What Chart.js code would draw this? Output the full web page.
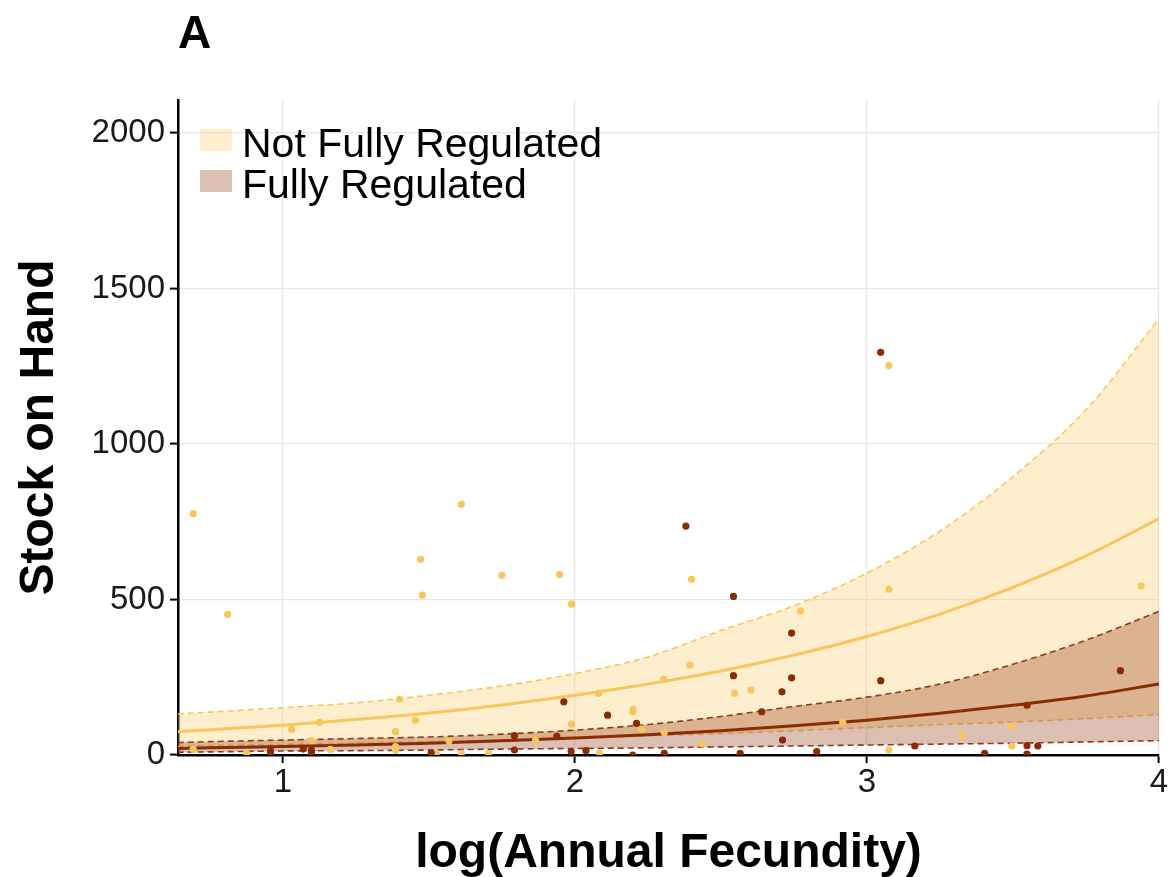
<!DOCTYPE html>
<html>
<head>
<meta charset="utf-8">
<script src="https://cdn.jsdelivr.net/npm/chart.js@4.4.1/dist/chart.umd.min.js"></script>
<style>
  html, body { margin: 0; padding: 0; background: #fff; }
</style>
</head>
<body>
<canvas id="chart" width="1176" height="877"></canvas>
<script>
// fitted curves + 95% bands
const curveX    = [0.64, 0.75, 1.0, 1.25, 1.5, 1.75, 2.0, 2.25, 2.5, 2.75, 3.0, 3.25, 3.5, 3.75, 4.0];
const notFit    = [75, 81, 96, 114, 135, 161, 192, 228, 270, 321, 381, 453, 539, 640, 760];
const notUpper  = [132, 138, 152, 168, 192, 222, 262, 315, 400, 480, 585, 720, 895, 1110, 1402];
const notLower  = [28, 30, 34, 38, 43, 48, 55, 62, 69, 78, 88, 98, 106, 117, 130];
const fullFit   = [21, 23, 27, 32, 38, 46, 55, 65, 78, 94, 112, 134, 160, 190, 228];
const fullUpper = [40, 43, 48, 53, 58, 67, 80, 98, 124, 156, 186, 228, 292, 369, 462];
const fullLower = [9, 10, 13, 14, 16, 19, 21, 23, 26, 29, 32, 35, 38, 42, 46];

// raw observations
const notPtsX = [0.693, 0.811, 1.611, 1.472, 1.478, 1.75, 1.947, 1.989, 2.40, 3.075, 3.075, 2.773, 3.939,
  0.693, 0.876, 1.03, 1.125, 1.098, 1.163, 1.40, 1.454, 1.386, 1.386, 1.386,
  1.569, 1.611, 1.525, 1.865, 1.705, 1.989, 2.081, 2.084, 2.198, 2.2, 2.229, 2.306, 2.304,
  2.394, 2.547, 2.603, 2.917, 2.435, 3.075, 3.325, 3.496, 3.496];
const notPtsY = [776, 452, 806, 629, 514, 578, 580, 485, 565, 1252, 533, 463, 543,
  18, 5, 83, 105, 46, 18, 180, 112, 75, 27, 15,
  45, 5, 6, 46, 5, 99, 198, 6, 139, 147, 83, 72, 243,
  289, 198, 209, 106, 35, 16, 62, 93, 29];
const fullPtsX = [3.047, 2.38, 2.543, 2.742,
  0.958, 0.958, 1.07, 1.098, 1.098, 1.508, 1.793, 1.793, 1.938, 1.962, 1.987, 2.038, 2.112, 2.211, 2.198, 2.306,
  2.543, 2.742, 2.709, 2.640, 3.047, 2.711, 2.566, 2.828, 3.164, 3.403, 3.548, 3.548, 3.585, 3.548, 3.868];
const fullPtsY = [1295, 736, 510, 392,
  14, 4, 19, 16, 8, 7, 62, 16, 61, 171, 11, 14, 128, 102, 0, 5,
  255, 248, 203, 139, 239, 48, 5, 11, 29, 5, 160, 30, 29, 3, 271];

const xTicks = [1, 2, 3, 4];
const yTicks = [0, 500, 1000, 1500, 2000];
const legendLabels = ["Not Fully Regulated", "Fully Regulated"];

const yellow = "#F8C65C";
const brown = "#8B2B04";
const yellowFill = "rgba(248,198,92,0.3)";
const brownFill = "rgba(139,43,4,0.3)";
const font = "'Liberation Sans', Arial, sans-serif";

function xy(xs, ys) {
  return xs.map((x, i) => ({ x: x, y: ys[i] }));
}

function curve(ys, color, opts) {
  return Object.assign({
    data: xy(curveX, ys),
    borderColor: color,
    borderWidth: 1.6,
    borderDash: [6, 4],
    pointRadius: 0,
    cubicInterpolationMode: "monotone",
    fill: false,
  }, opts);
}

function points(xs, ys, color, order) {
  return {
    data: xy(xs, ys),
    showLine: false,
    pointRadius: 3.6,
    pointBackgroundColor: color,
    pointBorderWidth: 0,
    clip: 0,
    order: order,
  };
}

// swatches + labels in the top-left corner of the plot
const cornerLegend = {
  id: "cornerLegend",
  afterDraw(chart) {
    const c = chart.ctx;
    const fills = [yellowFill, brownFill];
    c.save();
    c.font = "41px " + font;
    c.textBaseline = "middle";
    legendLabels.forEach((label, i) => {
      const top = 129 + i * 41;
      c.fillStyle = fills[i];
      c.fillRect(200, top, 32, 22);
      c.fillStyle = "#000";
      c.fillText(label, 242, top + 17);
    });
    c.restore();
  },
};

new Chart(document.getElementById("chart"), {
  type: "line",
  data: {
    datasets: [
      curve(notUpper, yellow, { fill: { target: 1, above: yellowFill, below: yellowFill }, order: 8 }),
      curve(notLower, yellow, { order: 7 }),
      curve(fullUpper, "#8E3A1C", { fill: { target: 3, above: brownFill, below: brownFill }, order: 6 }),
      curve(fullLower, "#8E3A1C", { order: 5 }),
      curve(notFit, yellow, { borderWidth: 3, borderDash: [], order: 4 }),
      curve(fullFit, brown, { borderWidth: 3, borderDash: [], order: 3 }),
      points(notPtsX, notPtsY, yellow, 2),
      points(fullPtsX, fullPtsY, brown, 1),
    ],
  },
  options: {
    responsive: false,
    animation: false,
    layout: { padding: { left: 0, right: 17, top: 0, bottom: 0 } },
    plugins: {
      legend: { display: false },
      tooltip: { enabled: false },
      title: {
        display: true,
        text: "A",
        align: "start",
        fullSize: false,
        color: "#000",
        font: { family: font, size: 46, weight: "bold", lineHeight: 1.2 },
        padding: { top: 8, bottom: 36.8 },
      },
    },
    scales: {
      x: {
        type: "linear",
        min: 0.641,
        max: 4.0,
        afterBuildTicks: (s) => { s.ticks = xTicks.map((v) => ({ value: v })); },
        afterFit: (s) => { s.height = 122; },
        ticks: { color: "#1a1a1a", font: { family: font, size: 33 }, padding: 0, callback: (v) => String(v) },
        grid: { color: "#e6e6e6", lineWidth: 1.2, tickColor: "#000", tickLength: 8, tickWidth: 2 },
        border: { color: "#000", width: 2.5 },
        title: {
          display: true,
          text: "log(Annual Fecundity)",
          color: "#000",
          font: { family: font, size: 48, weight: "bold", lineHeight: 1.2 },
          padding: { top: 10, bottom: -6 },
        },
      },
      y: {
        min: 0,
        max: 2106,
        afterBuildTicks: (s) => { s.ticks = yTicks.map((v) => ({ value: v })); },
        afterFit: (s) => { s.width = 178; },
        ticks: { color: "#1a1a1a", font: { family: font, size: 33 }, padding: 5, callback: (v) => String(v) },
        grid: { color: "#e6e6e6", lineWidth: 1.2, tickColor: "#000", tickLength: 8, tickWidth: 2 },
        border: { color: "#000", width: 2.5 },
        title: {
          display: true,
          text: "Stock on Hand",
          color: "#000",
          font: { family: font, size: 48, weight: "bold", lineHeight: 1.2 },
          padding: { top: 11, bottom: 0 },
        },
      },
    },
  },
  plugins: [cornerLegend],
});
</script>
</body>
</html>
